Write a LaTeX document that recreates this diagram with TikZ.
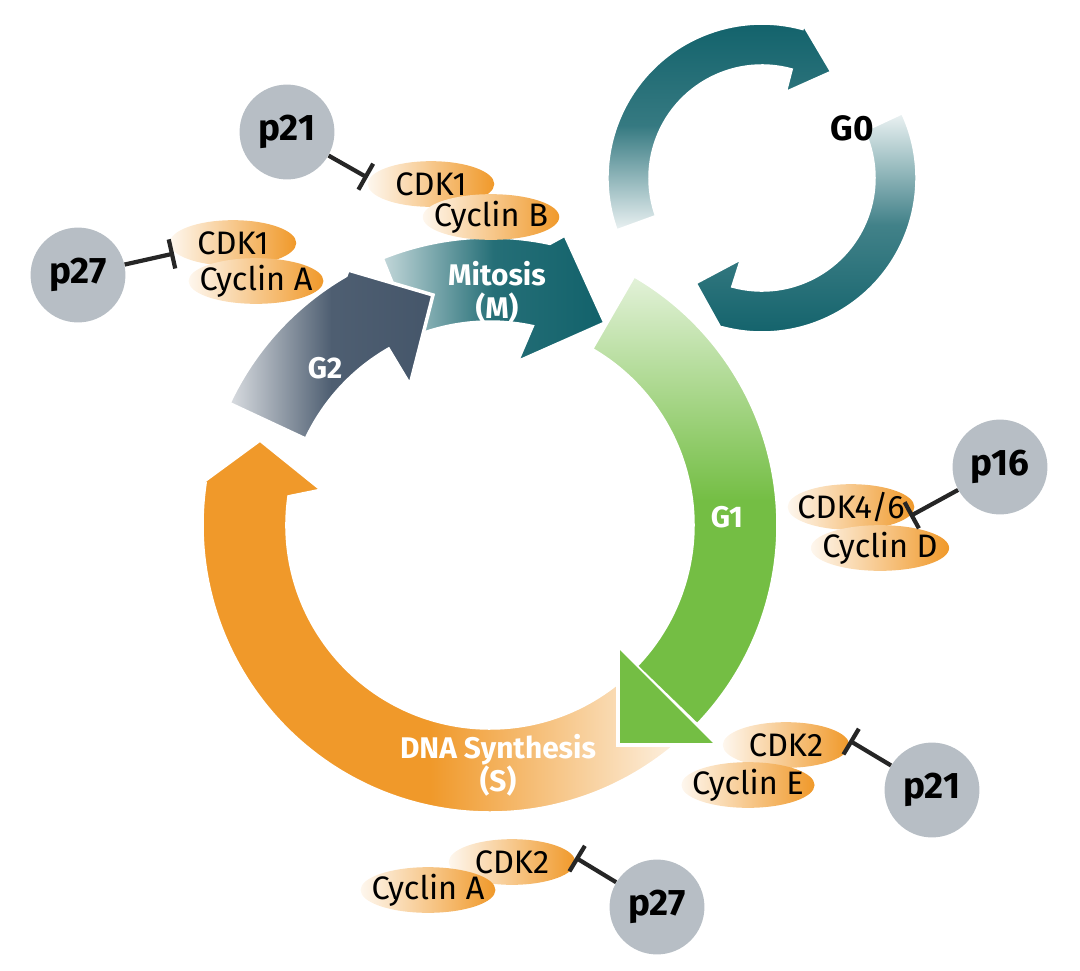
\documentclass[tikz,border=0pt]{standalone}
\usepackage{fontspec}
\setmainfont{Fira Sans}
\usetikzlibrary{shapes.geometric,arrows.meta,calc}
\definecolor{org}{HTML}{F0992A}
\definecolor{grn}{HTML}{74BE44}
\definecolor{tea}{HTML}{12626B}
\definecolor{slt}{HTML}{45566A}
\definecolor{gry}{HTML}{B7BEC5}
\tikzset{
 cx/.style={ellipse,minimum width=72pt,minimum height=26pt,inner xsep=-5pt,inner ysep=0pt,left color=org!8,right color=org,font=\fontsize{18.5}{19}\selectfont},
 inh/.style={circle,fill=gry,minimum size=54pt,inner sep=0pt,font=\bfseries\fontsize{21}{21}\selectfont},
 blk/.style={draw=black!85,line width=2.4pt,-{Bar[width=17pt,line width=2.4pt]},shorten >=1pt},
 lab/.style={text=white,font=\bfseries\fontsize{17}{19}\selectfont,align=center},
 sep/.style={draw=white,line width=2pt}
}
\begin{document}
\begin{tikzpicture}[x=0.02cm,y=-0.02cm]
\useasboundingbox (0,0) rectangle (1080,971);
\coordinate (C) at (490,525);
\def\Ri{203}\def\Ro{288}
% G1 body
\shade[sep,top color=grn!20!white,bottom color=grn,middle color=grn] ($(C)+(-60:\Ro)$) arc[start angle=-60,end angle=44,radius=\Ro] -- ($(C)+(44:\Ri)$) arc[start angle=44,end angle=-60,radius=\Ri] -- cycle;
% M
\shade[sep,left color=tea!25!white,right color=tea,middle color=tea!92] ($(C)+(-112:\Ro)$) arc[start angle=-112,end angle=-78,radius=\Ro] -- (565,235) -- (605,323) -- (517,362) -- ($(C)+(-78:\Ri)$) arc[start angle=-78,end angle=-112,radius=\Ri] -- cycle;
% G2
\shade[sep,shading angle=-45,left color=slt!20!white,right color=slt,middle color=slt!95] ($(C)+(205:\Ro)$) arc[start angle=205,end angle=240,radius=\Ro] -- (348,270) -- (433,295) -- (410,385) -- ($(C)+(240:\Ri)$) arc[start angle=240,end angle=205,radius=\Ri] -- cycle;
% S
\shade[sep,left color=org,right color=org!15!white,middle color=org] ($(C)+(50:\Ro)$) arc[start angle=50,end angle=188,radius=\Ro] -- (185,495) -- (260,440) -- (322,490) -- ($(C)+(188:\Ri)$) arc[start angle=188,end angle=50,radius=\Ri] -- cycle;
% G1 head
\fill[grn] (618,648) -- (715,745) -- (618,745) -- cycle;
\draw[white,line width=2pt] (618,648) -- (618,745) -- (715,745);
% G0 ring
\coordinate (D) at (762,178);
\def\ri{112}\def\ro{155}
\shade[sep,shading angle=45,top color=tea,bottom color=tea!8!white,middle color=tea!85] ($(D)+(160:\ro)$) arc[start angle=160,end angle=285,radius=\ro] -- (803,23) -- (832,72) -- (785,93) -- ($(D)+(285:\ri)$) arc[start angle=285,end angle=160,radius=\ri] -- cycle;
\shade[sep,top color=tea!8!white,bottom color=tea,middle color=tea!80] ($(D)+(-25:\ro)$) arc[start angle=-25,end angle=105,radius=\ro] -- (720,328) -- (695,283) -- (742,258) -- ($(D)+(105:\ri)$) arc[start angle=105,end angle=-25,radius=\ri] -- cycle;
% labels
\node[lab] (lm) at (497,292) {Mitosis\\(M)};
\node[lab] (lg2) at (325,368) {G2};
\node[lab] (lg1) at (727,517) {G1};
\node[lab] (ls) at (498,765) {DNA Synthesis\\(S)};
\node[font=\bfseries\fontsize{20}{20}\selectfont] (lg0) at (852,128) {G0};
% complexes
\node[inh] (p21a) at (287,132) {p21};
\node[cx] (cdk1a) at (431,184) {CDK1};
\node[cx] (cycb) at (491,217) {Cyclin B};
\draw[blk] (p21a) -- (cdk1a.175);

\node[inh] (p27a) at (78,275) {p27};
\node[cx] (cdk1b) at (233,243) {CDK1};
\node[cx] (cyca) at (256,281) {Cyclin A};
\draw[blk] (p27a) -- (cdk1b.190);

\node[inh] (p16) at (1000,467) {p16};
\node[cx] (cdk46) at (851,507) {CDK4/6};
\node[cx] (cycd) at (880,548) {Cyclin D};
\draw[blk] (p16) -- (cdk46.-10);

\node[inh] (p21b) at (932,790) {p21};
\node[cx] (cdk2a) at (786,745) {CDK2};
\node[cx] (cyce) at (748,785) {Cyclin E};
\draw[blk] (p21b) -- (cdk2a.5);

\node[inh] (p27b) at (657,907) {p27};
\node[cx] (cdk2b) at (512,862) {CDK2};
\node[cx] (cyca2) at (428,890) {Cyclin A};
\draw[blk] (p27b) -- (cdk2b.5);
\end{tikzpicture}
\end{document}
